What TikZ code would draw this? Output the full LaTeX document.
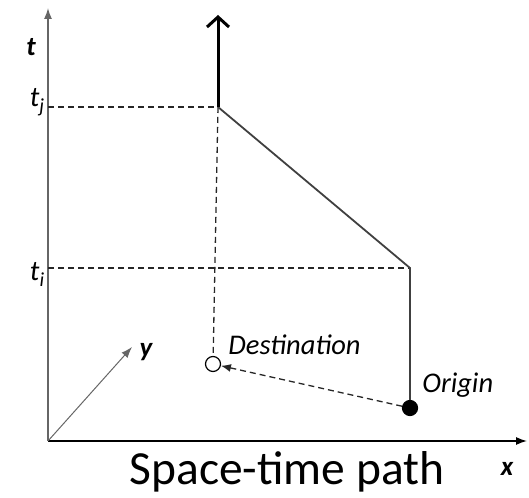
\documentclass[tikz,border=0pt]{standalone}
\usepackage{fontspec}
\setmainfont{Carlito}
\usetikzlibrary{positioning, arrows.meta}

\tikzset{
  axis/.style={line width=1.3pt, -{Latex[length=11pt,width=8pt]}},
  guide/.style={line width=1.3pt, dash pattern=on 6pt off 4pt, black!85},
  route/.style={line width=1.8pt, black!75},
  lbl/.style={font=\fontsize{28.5}{30}\selectfont\itshape, inner sep=1pt},
  axlbl/.style={font=\fontsize{27}{30}\selectfont\bfseries\itshape, inner sep=1pt},
  place/.style={circle, draw=black, line width=1.2pt, minimum size=13pt, inner sep=0pt},
}

\begin{document}
\begin{tikzpicture}[x=1pt, y=1pt, > = stealth, thick]
    \useasboundingbox (0,0) rectangle (529,497);

    % axes
    \coordinate (o) at (48,56);
    \draw[axis, black!60] (o) -- (48,489) coordinate (tend);
    \draw[axis] (o) -- (527,56) coordinate (xend);
    \draw[axis, black!60, line width=1pt] (o) -- (132,150) coordinate (yend);

    \node[axlbl] (t) at (31,450) {t};
    \node[axlbl] (x) at (507,28) {x};
    \node[axlbl] (y) at (146,145) {y};

    % path points
    \node[place, fill=black, minimum width=15pt, minimum height=13pt] (orig) at (410,89) {};
    \node[place, fill=white, minimum width=15pt, minimum height=13pt] (dest) at (213,133) {};
    \coordinate (ti) at (410,229);
    \coordinate (tj) at (218,390);

    \node[lbl, anchor=base east] (tjl) at (46,390) {t\textsubscript{j}};
    \node[lbl, anchor=base east] (til) at (46,216) {t\textsubscript{i}};

    % guides
    \draw[guide] (o |- tj) -- (tj);
    \draw[guide] (o |- ti) -- (ti);
    \draw[guide] (tj) -- (dest);
    \draw[guide, -{Latex[length=10pt,width=8pt]}] (orig) -- (dest);

    % space-time path
    \draw[route] (orig) -- (ti) -- (tj);
    \draw[line width=3pt, -{Straight Barb[length=10pt,width=22pt,line width=3pt]}] (tj) -- (218,482) coordinate (top);

    \node[lbl, anchor=base west] (destl) at (227,142) {Destination};
    \node[lbl, anchor=base west] (origl) at (421,104) {Origin};
    \node[font=\fontsize{47.5}{50}\selectfont] (title) at (287,25) {Space-time path};
\end{tikzpicture}
\end{document}
